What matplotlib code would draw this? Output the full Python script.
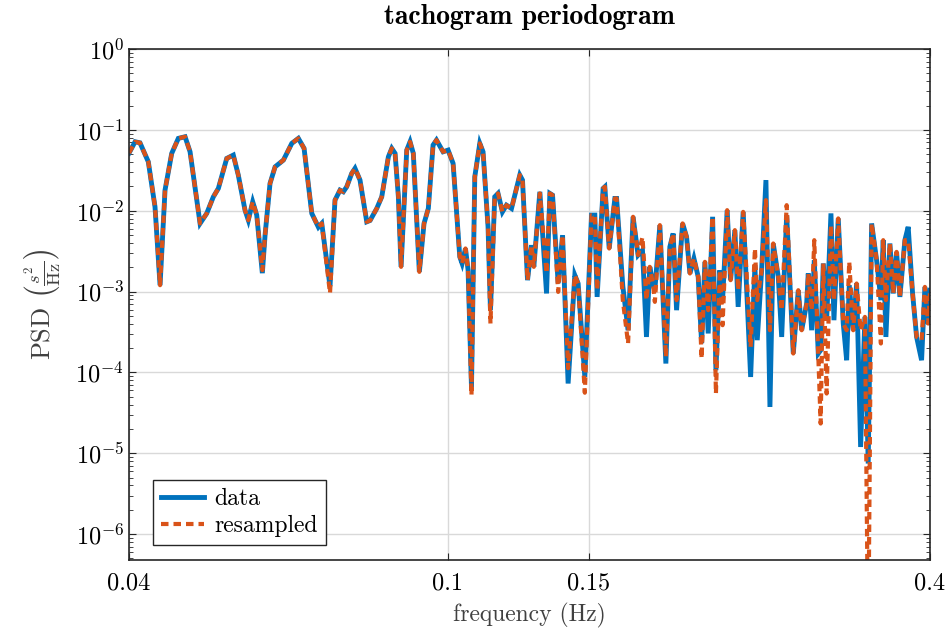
import numpy as np
import matplotlib as mpl
mpl.use('Agg')
import matplotlib.pyplot as plt
from matplotlib.ticker import FixedLocator, FixedFormatter, NullLocator, LogFormatterMathtext

mpl.rcParams['font.family'] = 'serif'
mpl.rcParams['font.serif'] = ['cmr10', 'DejaVu Serif']
mpl.rcParams['mathtext.fontset'] = 'cm'
mpl.rcParams['axes.unicode_minus'] = False
mpl.rcParams['axes.formatter.use_mathtext'] = True

# frequencies of the periodogram vertices (Hz)
freq = [0.04000, 0.04070, 0.04128, 0.04228, 0.04310, 0.04373, 0.04436, 0.04522, 0.04609, 0.04699,
        0.04767, 0.04906, 0.05001, 0.05097, 0.05171, 0.05297, 0.05398, 0.05476, 0.05583, 0.05636,
        0.05708, 0.05774, 0.05868, 0.05914, 0.05999, 0.06087, 0.06234, 0.06386, 0.06508, 0.06616,
        0.06764, 0.06894, 0.06961, 0.07128, 0.07231, 0.07336, 0.07406, 0.07478, 0.07587, 0.07659,
        0.07770, 0.07922, 0.07999, 0.08153, 0.08271, 0.08430, 0.08513, 0.08594, 0.08676, 0.08743,
        0.08887, 0.08972, 0.09057, 0.09215, 0.09340, 0.09456, 0.09586, 0.09680, 0.09866, 0.10009,
        0.10154, 0.10351, 0.10420, 0.10522, 0.10601, 0.10705, 0.10807, 0.10964, 0.11067, 0.11227,
        0.11305, 0.11445, 0.11554, 0.11701, 0.11837, 0.12010, 0.12300, 0.12396, 0.12576, 0.12721,
        0.12806, 0.13030, 0.13283, 0.13410, 0.13514, 0.13734, 0.13909, 0.14133, 0.14408, 0.14546,
        0.14828, 0.15117, 0.15261, 0.15362, 0.15629, 0.15706, 0.15904, 0.16166, 0.16246, 0.16540,
        0.16791, 0.17034, 0.17281, 0.17501, 0.17703, 0.17872, 0.18047, 0.18135, 0.18398, 0.18718,
        0.18934, 0.19115, 0.19303, 0.19639, 0.19866, 0.20058, 0.20290, 0.20542, 0.20744, 0.20942,
        0.21141, 0.21410, 0.21615, 0.21864, 0.22032, 0.22325, 0.22544, 0.22825, 0.23042, 0.23376,
        0.23883, 0.24180, 0.24341, 0.24650, 0.24957, 0.25246, 0.25487, 0.25858, 0.26112, 0.26490,
        0.26998, 0.27389, 0.27657, 0.28056, 0.28186, 0.28463, 0.28677, 0.29008, 0.29209, 0.29429,
        0.29716, 0.30086, 0.30347, 0.30724, 0.31169, 0.31475, 0.31711, 0.32074, 0.32389, 0.32763,
        0.33171, 0.33487, 0.33816, 0.34305, 0.34731, 0.34962, 0.35234, 0.35641, 0.35981, 0.36332,
        0.36679, 0.37210, 0.37565, 0.38044, 0.38484, 0.39041, 0.39413, 0.39789, 0.40000]

# log10 of PSD (s^2/Hz)
log_psd_data = [-1.287, -1.147, -1.160, -1.395, -1.952, -2.921, -1.745, -1.291, -1.105, -1.085,
                -1.271, -2.157, -2.033, -1.828, -1.724, -1.353, -1.312, -1.559, -1.993, -2.116,
                -1.890, -2.054, -2.772, -2.302, -1.662, -1.457, -1.374, -1.167, -1.105, -1.229,
                -2.033, -2.203, -2.157, -2.933, -1.869, -1.745, -1.766, -1.704, -1.538, -1.476,
                -1.621, -2.137, -2.120, -1.972, -1.828, -1.333, -1.229, -1.291, -1.828, -2.694,
                -1.250, -1.147, -1.291, -2.756, -2.157, -1.972, -1.188, -1.126, -1.271, -1.250,
                -1.415, -2.570, -2.652, -2.467, -2.735, -4.183, -1.580, -1.167, -1.271, -2.199,
                -3.230, -1.828, -1.786, -2.014, -1.931, -1.972, -1.559, -1.621, -2.859, -2.426,
                -2.694, -1.766, -3.023, -1.786, -1.807, -2.896, -2.302, -4.137, -2.797, -2.900,
                -4.056, -2.054, -2.054, -3.066, -1.724, -1.704, -2.467, -1.848, -1.848, -2.933,
                -3.478, -2.075, -2.549, -2.488, -3.561, -2.694, -2.921, -2.983, -2.178, -3.890,
                -2.447, -2.281, -3.230, -2.157, -2.323, -2.776, -2.590, -2.818, -3.639, -2.632,
                -3.518, -2.075, -3.973, -2.735, -3.106, -1.993, -2.859, -2.240, -3.189, -2.014,
                -4.056, -2.673, -3.601, -2.735, -1.621, -4.427, -2.405, -2.818, -3.561, -2.054,
                -3.766, -2.983, -3.478, -3.147, -2.776, -3.478, -2.611, -3.766, -3.725, -2.652,
                -3.354, -2.033, -3.354, -2.095, -3.395, -3.849, -2.921, -3.478, -2.900, -4.922,
                -3.313, -5.127, -2.157, -2.611, -3.106, -2.364, -3.561, -2.405, -3.023, -2.509,
                -3.066, -2.364, -2.199, -3.023, -3.561, -3.849, -2.942, -3.395, -2.983]

log_psd_resampled = [-1.287, -1.147, -1.160, -1.395, -1.952, -2.921, -1.745, -1.291, -1.105, -1.085,
                     -1.271, -2.157, -2.033, -1.828, -1.724, -1.353, -1.312, -1.559, -1.993, -2.116,
                     -1.890, -2.054, -2.735, -2.302, -1.662, -1.457, -1.374, -1.167, -1.105, -1.229,
                     -2.033, -2.203, -2.157, -3.020, -1.869, -1.745, -1.766, -1.704, -1.538, -1.476,
                     -1.621, -2.137, -2.120, -1.972, -1.828, -1.333, -1.229, -1.291, -1.828, -2.694,
                     -1.250, -1.147, -1.291, -2.756, -2.157, -1.972, -1.188, -1.126, -1.271, -1.250,
                     -1.415, -2.570, -2.652, -2.467, -2.735, -4.282, -1.580, -1.167, -1.271, -2.199,
                     -3.395, -1.828, -1.786, -2.014, -1.931, -1.972, -1.559, -1.621, -2.859, -2.426,
                     -2.694, -1.786, -2.772, -1.786, -1.807, -3.004, -2.302, -3.948, -2.797, -2.900,
                     -4.251, -2.054, -2.054, -2.983, -1.724, -1.704, -2.467, -1.848, -1.848, -3.106,
                     -3.642, -2.075, -2.549, -2.327, -3.106, -2.694, -2.921, -3.127, -2.178, -3.808,
                     -2.447, -2.281, -3.106, -2.157, -2.323, -2.776, -2.590, -2.818, -3.828, -2.632,
                     -3.230, -2.075, -4.261, -2.735, -3.416, -1.993, -2.859, -2.240, -2.983, -2.014,
                     -3.684, -2.467, -3.106, -2.735, -1.869, -3.478, -2.405, -2.818, -3.230, -1.931,
                     -3.766, -2.983, -3.478, -3.147, -2.776, -3.230, -2.364, -3.766, -4.632, -2.652,
                     -4.261, -2.178, -3.106, -2.095, -3.395, -3.478, -2.632, -3.478, -2.900, -3.478,
                     -3.313, -7.500, -2.157, -2.611, -3.642, -2.364, -3.106, -2.405, -3.023, -2.509,
                     -3.066, -2.364, -2.364, -3.023, -3.561, -3.601, -2.942, -3.395, -2.983]

x_ticks = [0.04, 0.1, 0.15, 0.4]
x_tick_labels = ['0.04', '0.1', '0.15', '0.4']
y_decades = [1e-6, 1e-5, 1e-4, 1e-3, 1e-2, 1e-1, 1e0]

blue = '#0072BD'
orange = '#D95319'

fig = plt.figure(figsize=(9.53, 6.31), dpi=100)
ax = fig.add_axes([0.1354, 0.1125, 0.8405, 0.8098])

ax.plot(freq, 10 ** np.array(log_psd_data), color=blue, lw=3.5, label='data',
        solid_joinstyle='miter')
ax.plot(freq, 10 ** np.array(log_psd_resampled), color=orange, lw=3.0,
        dashes=(1.8, 1.2), label='resampled')

ax.set_xscale('log')
ax.set_yscale('log')
ax.set_xlim(0.04, 0.4)
ax.set_ylim(10 ** -6.32, 1)

ax.xaxis.set_major_locator(FixedLocator(x_ticks))
ax.xaxis.set_major_formatter(FixedFormatter(x_tick_labels))
ax.xaxis.set_minor_locator(NullLocator())
ax.yaxis.set_major_locator(FixedLocator(y_decades))
ax.yaxis.set_major_formatter(LogFormatterMathtext())
y_minor = [m * d for d in y_decades[:-1] for m in range(2, 10)]
y_minor += [m * 1e-7 for m in range(5, 10)]
ax.yaxis.set_minor_locator(FixedLocator(y_minor))

ax.tick_params(which='both', direction='in', top=True, right=True, colors='#262626',
               labelsize=17.5, labelcolor='black')
ax.tick_params(which='major', length=5, width=0.8)
ax.tick_params(which='minor', length=3, width=0.6)
ax.tick_params(axis='x', pad=9)

ax.grid(True, which='major', color='#d9d9d9', lw=1.0)
ax.set_axisbelow(True)
for s in ax.spines.values():
    s.set_linewidth(1.2)
    s.set_color('#262626')

ax.set_title('tachogram periodogram', fontsize=20, family='cmb10', pad=18)
ax.set_xlabel('frequency (Hz)', fontsize=17, color='#404040', labelpad=6)
ax.set_ylabel(r'PSD $\left(\frac{s^2}{\mathrm{Hz}}\right)$', fontsize=19, color='#404040',
              labelpad=8)

leg = ax.legend(loc='lower left', bbox_to_anchor=(0.03, 0.029), borderaxespad=0,
                fontsize=17, fancybox=False, framealpha=1, edgecolor='#262626',
                handlelength=1.8, borderpad=0.35, labelspacing=0.2, handletextpad=0.45)
leg.get_frame().set_linewidth(1.0)

fig.savefig('out.png', dpi=100)
